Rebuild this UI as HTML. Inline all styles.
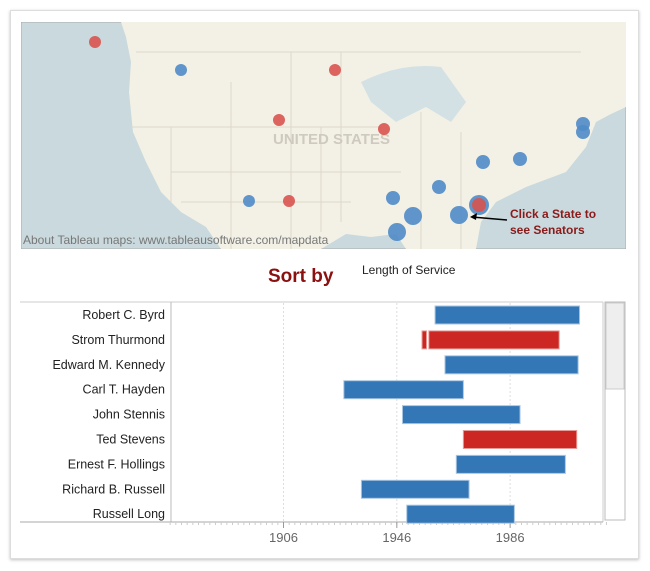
<!DOCTYPE html>
<html><head><meta charset="utf-8"><style>
body{margin:0;width:650px;height:571px;background:#fff;font-family:"Liberation Sans",sans-serif;position:relative;overflow:hidden}
.card{position:absolute;left:10px;top:10px;width:627px;height:547px;border:1px solid #ddd;box-shadow:0 1px 3px rgba(0,0,0,.25);background:#fff}
.abs{position:absolute}
</style></head><body>
<div class="card"></div>
<svg class="abs" style="left:21px;top:22px" width="605" height="227">
<rect width="605" height="227" fill="#c9d9dd" stroke="#aaa"/>
<path d="M100,0 L605,0 L605,85 L590,92 L575,100 L565,125 L545,150 L505,165 L475,180 L460,200 L455,227 L385,227 L375,212 L350,215 L325,212 L300,227 L200,227 L185,205 L160,190 L140,170 L125,140 L112,110 L108,70 L110,40 L105,15 Z" fill="#f3f1e6"/>
<path d="M340,60 Q380,40 420,45 L445,80 L430,100 L405,85 L375,100 L350,80 Z" fill="#d3e1e4"/>
<g stroke="#dcd8ca" stroke-width="1" fill="none">
<path d="M115,30 H560 M110,105 H360 M150,150 H380 M160,180 H330 M210,60 V227 M270,30 V227 M320,30 V200 M400,90 V227 M440,110 V227 M150,105 V180 M300,105 V210"/>
</g>
<text x="252" y="122" font-size="15" font-weight="bold" fill="#cfcac0">UNITED STATES</text>
<g id="dots"></g>
<text x="2" y="222" font-size="12" fill="#777">About Tableau maps: www.tableausoftware.com/mapdata</text>
<line x1="486" y1="198" x2="451" y2="195" stroke="#000" stroke-width="1.5"/>
<path d="M449,195 L456,191 L455,198 Z" fill="#000"/>
<text x="489" y="196" font-size="12" font-weight="bold" fill="#8b1a1a">Click a State to</text>
<text x="489" y="212" font-size="12" font-weight="bold" fill="#8b1a1a">see Senators</text>
</svg>
<div class="abs" style="left:268px;top:266px;font-size:19px;font-weight:bold;color:#8b1010">Sort by</div>
<div class="abs" style="left:362px;top:263px;font-size:12px;color:#222">Length of Service</div>
<svg class="abs" style="left:0;top:0" width="650" height="571" id="chart"></svg>
<script>
const names=["Robert C. Byrd","Strom Thurmond","Edward M. Kennedy","Carl T. Hayden","John Stennis","Ted Stevens","Ernest F. Hollings","Richard B. Russell","Russell Long"];
const starts=[1959.5,1957.3,1963,1927.3,1948,1969.5,1967,1933.5,1949.5];
const ends=[2010.5,2003.3,2010,1969.5,1989.5,2009.5,2005.5,1971.5,1987.5];
const parties=["D","R","D","D","D","R","D","D","D"];
const ticks=[1906,1946,1986];
const mapX=[74,160,314,258,363,562,562,499,462,418,372,228,268,458,458,392,438,376];
const mapY=[20,48,48,98,107,102,110,137,140,165,176,179,179,183,183,194,193,210];
const mapR=[6,6,6,6,6,7,7,7,7,7,7,6,6,10,7,9,9,9];
const mapP=["R","D","R","R","R","D","D","D","D","D","D","D","R","D","R","D","D","D"];
const ns="http://www.w3.org/2000/svg";
const svg=document.getElementById('chart');
const X=y=>283.5+(y-1906)*2.833;
const rowY=i=>315+i*24.9;
function mk(t,a,p){const e=document.createElementNS(ns,t);for(const k in a)e.setAttribute(k,a[k]);(p||svg).appendChild(e);return e;}
mk('line',{x1:20,y1:302,x2:603,y2:302,stroke:'#ccc'});
mk('line',{x1:171,y1:302,x2:171,y2:522,stroke:'#bbb'});
mk('line',{x1:603,y1:302,x2:603,y2:522,stroke:'#ccc'});
mk('line',{x1:20,y1:522,x2:603,y2:522,stroke:'#aaa'});
const sb=mk('rect',{x:605,y:302,width:20,height:218,fill:'#fff',stroke:'#bbb'});


const th=mk('rect',{x:606,y:303,width:18,height:86,fill:'#eee',stroke:'#ccc'});


for(let y=1866;y<=2020;y+=2){mk('line',{x1:X(y),y1:522,x2:X(y),y2:525,stroke:'#ccc'});}
ticks.forEach(t=>{
 mk('line',{x1:X(t),y1:303,x2:X(t),y2:522,stroke:'#ddd','stroke-dasharray':'2,2'});
 mk('line',{x1:X(t),y1:522,x2:X(t),y2:528,stroke:'#999'});
 const tx=mk('text',{x:X(t),y:542,'text-anchor':'middle','font-size':13,fill:'#666'});
 tx.textContent=t;
 
 
});
names.forEach((n,i)=>{
 const tx=mk('text',{x:165,y:rowY(i)+4,'text-anchor':'end','font-size':12.5,fill:'#222'});
 tx.textContent=n;
 
 
 const c=parties[i]=="R"?'#cc2722':'#3477b6';
 const b=mk('rect',{x:X(starts[i]),y:rowY(i)-9,width:X(ends[i])-X(starts[i]),height:18,fill:c,stroke:parties[i]=="R"?'#e79c99':'#a9c6e2'});
 
 
});
const b2=mk('rect',{x:X(1954.9),y:rowY(1)-9,width:X(1956.5)-X(1954.9),height:18,fill:'#cc2722',stroke:'#e79c99'});


const g=document.getElementById('dots');
mapX.forEach((x,i)=>{
 const c=mk('circle',{cx:x,cy:mapY[i],r:mapR[i],fill:mapP[i]=="R"?'#d9534f':'#4f8bc6','fill-opacity':0.9},g);
 
 
});
</script>
</body></html>
